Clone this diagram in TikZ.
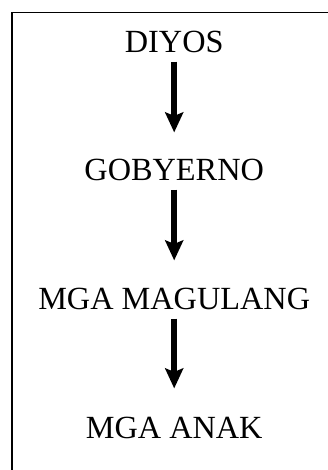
\documentclass[tikz,border=0pt]{standalone}
\usepackage{fontspec}
\setmainfont{Liberation Serif}
\usetikzlibrary{arrows.meta}
\begin{document}
\begin{tikzpicture}[x=1pt,y=1pt,
  lbl/.style={inner sep=0pt, anchor=base, font=\fontsize{32.3}{36}\selectfont},
  arr/.style={line width=5.5pt, -{Stealth[length=20pt,width=18pt,inset=3.5pt]}}]
\useasboundingbox (0,0) rectangle (328,-470);
\draw[line width=1.6pt] (11.7,-480) -- (11.7,-12.7) -- (340,-12.7);
\node[lbl] (d) at (174.2,-53) {DIYOS};
\node[lbl] (g) at (174.2,-180) {GOBYERNO};
\node[lbl] (m) at (174.2,-309) {MGA MAGULANG};
\node[lbl] (a) at (174.2,-438) {MGA ANAK};
\draw[arr, shorten <=8pt, shorten >=26pt] (d) -- (g);
\draw[arr, shorten <=9pt, shorten >=27pt] (g) -- (m);
\draw[arr, shorten <=9pt, shorten >=28pt] (m) -- (a);
\end{tikzpicture}
\end{document}
